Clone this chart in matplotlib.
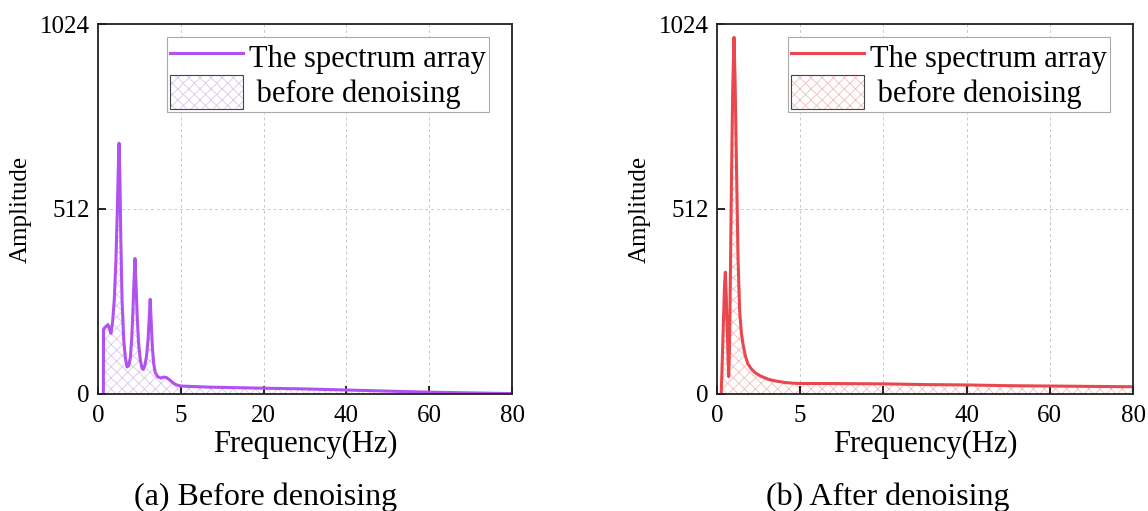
import numpy as np
import matplotlib
matplotlib.use("Agg")
from matplotlib import pyplot as plt
from matplotlib.lines import Line2D
from matplotlib.patches import Patch

plt.rcParams['font.family'] = ['Liberation Serif', 'DejaVu Serif']
plt.rcParams['hatch.linewidth'] = 0.6

# spectrum before denoising (Hz, amplitude)
f_before = [0.32, 0.33, 0.42, 0.52, 0.60, 0.68, 0.78, 0.88, 0.98, 1.08, 1.16, 1.22, 1.27,
            1.32, 1.38, 1.45, 1.55, 1.65, 1.75, 1.85, 1.95, 2.03, 2.10, 2.17, 2.23, 2.29,
            2.36, 2.45, 2.55, 2.65, 2.73, 2.83, 2.93, 3.02, 3.09, 3.15, 3.21, 3.28, 3.36,
            3.45, 3.60, 3.80, 4.00, 4.15, 4.35, 4.55, 4.75, 5.0,
            10, 20, 30, 40, 50, 60, 70, 80]
a_before = [0, 178, 185, 188, 192, 182, 168, 200, 260, 370, 500, 620, 694,
            600, 420, 260, 150, 100, 75, 78, 100, 150, 220, 310, 375, 310,
            220, 140, 95, 72, 68, 80, 105, 150, 210, 262, 200, 130, 85,
            60, 48, 44, 47, 45, 38, 30, 25, 22,
            19, 16, 14, 11, 8, 5, 3, 1]

# spectrum after denoising
f_after = [0.25, 0.30, 0.38, 0.45, 0.50, 0.55, 0.60, 0.66, 0.70, 0.74, 0.78, 0.86, 0.94,
           1.02, 1.08, 1.16, 1.26, 1.36, 1.46, 1.56, 1.70, 1.86, 2.05, 2.26, 2.60, 3.06,
           3.50, 4.06, 4.50, 5.0, 10, 20, 30, 40, 50, 60, 70, 80]
a_after = [0, 70, 194, 300, 337, 280, 194, 102, 48, 110, 241, 560, 840,
           987, 880, 655, 378, 230, 170, 138, 105, 83, 70, 60, 50, 41,
           36, 32, 30, 29, 29, 28, 26, 25, 23, 22, 21, 20]

x_ticks = [0, 5, 20, 40, 60, 80]
y_ticks = [0, 512, 1024]

# each labelled frequency interval gets the same width on the axis
seg = np.arange(len(x_ticks))
fwd = lambda x: np.interp(x, x_ticks, seg)
inv = lambda y: np.interp(y, seg, x_ticks)

fig = plt.figure(figsize=(11.48, 5.11), dpi=100)

panels = [
    ([0.0854, 0.229, 0.3606, 0.724], f_before, a_before, '#B052F0', '#D9C6EC',
     '(a) Before denoising', 266),
    ([0.6246, 0.229, 0.3624, 0.724], f_after, a_after, '#E8484D', '#F2BDBD',
     '(b) After denoising', 888),
]

for rect, f, a, col, hcol, caption, cap_x in panels:
    ax = fig.add_axes(rect)
    ax.set_xscale('function', functions=(fwd, inv))
    ax.fill_between(f, a, 0, facecolor='none', edgecolor=hcol, hatch='xxx', linewidth=0)
    ax.plot(f, a, color=col, lw=2.2)
    ax.set_xlim(0, 80)
    ax.set_ylim(0, 1024)
    ax.set_xticks(x_ticks)
    ax.set_xticklabels([str(t) for t in x_ticks])
    ax.set_yticks(y_ticks)
    ax.xaxis.set_minor_locator(plt.NullLocator())
    ax.tick_params(direction='in', length=6, width=1.2, labelsize=18)
    ax.tick_params(axis='x', pad=8)
    ax.tick_params(axis='y', pad=6)
    ax.grid(True, ls=(0, (3, 3)), color='#C8C8C8', lw=0.7)
    for s in ax.spines.values():
        s.set_linewidth(1.3)
        s.set_color('#222222')
    ax.set_xlabel('Frequency(Hz)', fontsize=22, labelpad=2)
    ax.set_ylabel('Amplitude', fontsize=18, labelpad=6)

    line_h = Line2D([], [], color=col, lw=2.2)
    hatch_h = Patch(facecolor='white', edgecolor=hcol, hatch='xxx', linewidth=0)
    frame_h = Patch(facecolor='none', edgecolor='#444444', linewidth=0.8)
    leg = ax.legend([line_h, (hatch_h, frame_h)], ['The spectrum array', ' before denoising'],
                    loc='upper right', bbox_to_anchor=(0.945, 0.965), borderaxespad=0,
                    fontsize=22, handlelength=2.4, handleheight=1.3, handletextpad=0.2,
                    labelspacing=0.05, borderpad=0.1, fancybox=False, framealpha=1,
                    edgecolor='#AAAAAA')
    leg.get_frame().set_linewidth(0.8)

    fig.text(cap_x / 1148, 1 - 505 / 511, caption, ha='center', va='baseline', fontsize=23)

fig.savefig('out.png', dpi=100)
